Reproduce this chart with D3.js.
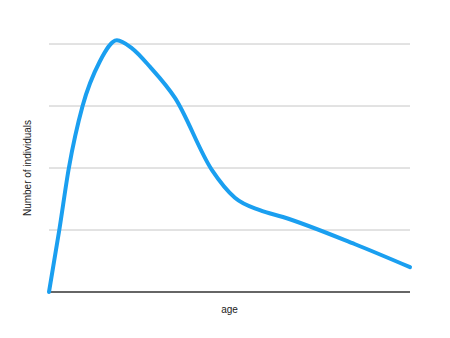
<!DOCTYPE html>
<html>
<head>
<meta charset="utf-8">
<script src="https://cdn.jsdelivr.net/npm/d3@7"></script>
<style>
  body { margin: 0; background: #fff; }
  text { font-family: "Liberation Sans", Arial, sans-serif; fill: #222; }
</style>
</head>
<body>
<svg id="chart" width="450" height="338"></svg>
<script>
const ages = [0, 2.85, 5.5, 9.3, 14, 18.8, 23, 28, 34.9, 45.1, 51.5, 58.4, 64.8, 84.8, 100];
const counts = [0, 1, 2, 3, 3.71, 4.06, 3.93, 3.63, 3.13, 1.97, 1.52, 1.32, 1.21, 0.77, 0.4];
const gridValues = [1, 2, 3, 4];

const data = ages.map((a, i) => ({ age: a, n: counts[i] }));

const padLeft = 49, padRight = 410, padTop = 44, padBottom = 292;

const x = d3.scaleLinear([0, 100], [padLeft, padRight]);
const y = d3.scaleLinear([0, 4], [padBottom, padTop]);

const svg = d3.select("#chart");

svg.selectAll(".grid")
  .data(gridValues)
  .enter()
  .append("line")
  .attr("class", "grid")
  .attr("x1", padLeft)
  .attr("x2", padRight)
  .attr("y1", d => y(d))
  .attr("y2", d => y(d))
  .attr("stroke", "#c6c6c6")
  .attr("stroke-width", 1);

svg.append("line")
  .attr("x1", padLeft)
  .attr("x2", padRight)
  .attr("y1", y(0))
  .attr("y2", y(0))
  .attr("stroke", "#333")
  .attr("stroke-width", 1.5);

const line = d3.line()
  .x(d => x(d.age))
  .y(d => y(d.n))
  .curve(d3.curveMonotoneX);

svg.append("path")
  .datum(data)
  .attr("d", line)
  .attr("fill", "none")
  .attr("stroke", "#1a9ff0")
  .attr("stroke-width", 4)
  .attr("stroke-linecap", "round");

svg.append("text")
  .attr("x", (padLeft + padRight) / 2)
  .attr("y", 313)
  .attr("text-anchor", "middle")
  .attr("font-size", "10px")
  .text("age");

svg.append("text")
  .attr("transform", `translate(31, ${(padTop + padBottom) / 2}) rotate(-90)`)
  .attr("text-anchor", "middle")
  .attr("font-size", "10px")
  .text("Number of individuals");
</script>
</body>
</html>
